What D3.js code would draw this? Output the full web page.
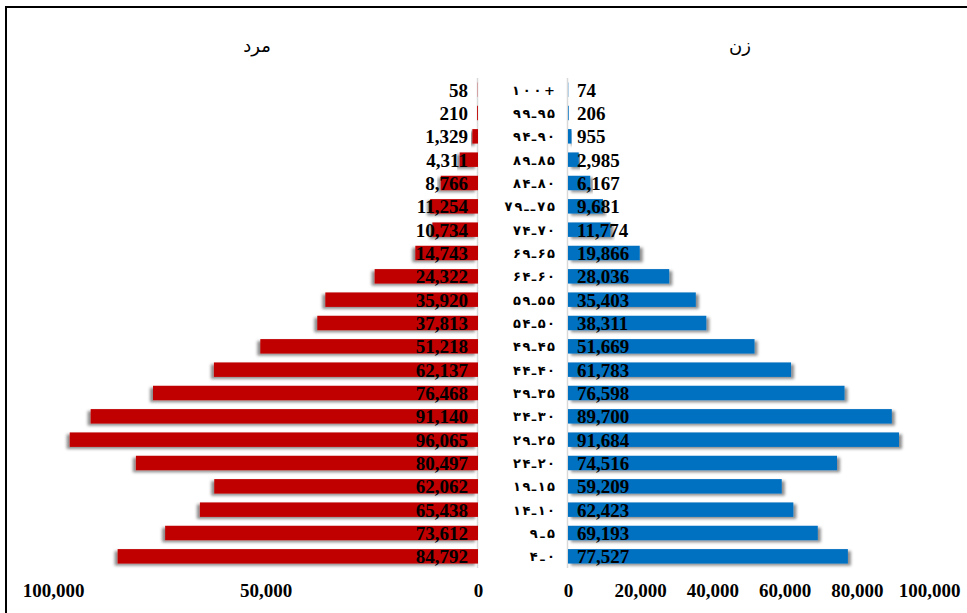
<!DOCTYPE html>
<html><head><meta charset="utf-8">
<script src="https://cdn.jsdelivr.net/npm/d3@7"></script>
<style>
html,body{margin:0;padding:0;background:#fff;}
svg{display:block;}
</style></head>
<body>
<script>
const ageGroups = ["۱۰۰+","۹۹ـ۹۵","۹۴ـ۹۰","۸۹ـ۸۵","۸۴ـ۸۰","۷۹ــ۷۵","۷۴ـ۷۰","۶۹ـ۶۵","۶۴ـ۶۰","۵۹ـ۵۵","۵۴ـ۵۰","۴۹ـ۴۵","۴۴ـ۴۰","۳۹ـ۳۵","۳۴ـ۳۰","۲۹ـ۲۵","۲۴ـ۲۰","۱۹ـ۱۵","۱۴ـ۱۰","۹ـ۵","۴ـ۰"];
const male = [58,210,1329,4311,8766,11254,10734,14743,24322,35920,37813,51218,62137,76468,91140,96065,80497,62062,65438,73612,84792];
const female = [74,206,955,2985,6167,9681,11774,19866,28036,35403,38311,51669,61783,76598,89700,91684,74516,59209,62423,69193,77527];
const maleTicks = [0,50000,100000];
const femaleTicks = [0,20000,40000,60000,80000,100000];
const titles = {male:"مرد", female:"زن"};

const W=967,H=613;
const svg=d3.select("body").append("svg").attr("width",W).attr("height",H);
const defs=svg.append("defs");
function shadow(id,dx){
  const f=defs.append("filter").attr("id",id).attr("x","-10%").attr("y","-50%").attr("width","120%").attr("height","200%");
  f.append("feDropShadow").attr("dx",dx).attr("dy",2).attr("stdDeviation",1.6).attr("flood-color","#000").attr("flood-opacity",0.45);
}
shadow("shM",-3);shadow("shF",3);

// frame
svg.append("rect").attr("x",6).attr("y",7).attr("width",1100).attr("height",1100)
  .attr("fill","none").attr("stroke","#000").attr("stroke-width",2);

const y=d3.scaleBand().domain(ageGroups).range([78,568]).paddingInner(0.38).paddingOuter(0.19);
const xM=d3.scaleLinear().domain([0,100000]).range([478,53]);
const xF=d3.scaleLinear().domain([0,100000]).range([568,929]);

// axis lines
svg.append("line").attr("x1",477.5).attr("x2",477.5).attr("y1",78).attr("y2",568).attr("stroke","#d9d9d9").attr("stroke-width",1.5);
svg.append("line").attr("x1",567.5).attr("x2",567.5).attr("y1",78).attr("y2",568).attr("stroke","#d9d9d9").attr("stroke-width",1.5);

const serif="'Liberation Serif','Times New Roman',serif";

// male bars
svg.append("g").selectAll("rect").data(male).join("rect")
  .attr("filter",d=>xM(0)-xM(d)>2?"url(#shM)":null)
  .attr("x",d=>xM(d)).attr("width",d=>xM(0)-xM(d))
  .attr("y",(d,i)=>y(ageGroups[i])).attr("height",y.bandwidth())
  .attr("fill","#C00000");
// female bars
svg.append("g").selectAll("rect").data(female).join("rect")
  .attr("filter",d=>xF(d)-xF(0)>2?"url(#shF)":null)
  .attr("x",xF(0)).attr("width",d=>xF(d)-xF(0))
  .attr("y",(d,i)=>y(ageGroups[i])).attr("height",y.bandwidth())
  .attr("fill","#0070C0");

const fmt=d3.format(",");
// value labels
svg.append("g").selectAll("text").data(male).join("text")
  .attr("x",xM(0)-10).attr("y",(d,i)=>y(ageGroups[i])+y.bandwidth()/2).attr("dy","0.36em")
  .attr("text-anchor","end").attr("font-family",serif).attr("font-weight","bold").attr("font-size",19)
  .text(d=>fmt(d));
svg.append("g").selectAll("text").data(female).join("text")
  .attr("x",xF(0)+9).attr("y",(d,i)=>y(ageGroups[i])+y.bandwidth()/2).attr("dy","0.36em")
  .attr("text-anchor","start").attr("font-family",serif).attr("font-weight","bold").attr("font-size",19)
  .text(d=>fmt(d));

// age labels
svg.append("g").selectAll("text").data(ageGroups).join("text")
  .attr("x",555).attr("y",d=>y(d)+y.bandwidth()/2).attr("dy","0.38em")
  .attr("text-anchor","end").attr("font-family","'DejaVu Sans','Noto Sans',sans-serif").attr("font-weight","bold").attr("font-size",13)
  .attr("textLength",d=>d.length===4&&d.endsWith("+")?43:d.length*8.4)
  .attr("lengthAdjust","spacing")
  .attr("direction","ltr").style("unicode-bidi","bidi-override")
  .text(d=>d);

// axes tick labels
const axM=d3.axisBottom(xM).tickValues(maleTicks).tickFormat(fmt).tickSize(0).tickPadding(0);
const axF=d3.axisBottom(xF).tickValues(femaleTicks).tickFormat(fmt).tickSize(0).tickPadding(0);
[axM,axF].forEach(ax=>{
  const g=svg.append("g").attr("transform","translate(0,583)").call(ax);
  g.select(".domain").remove();
  g.selectAll("text").attr("font-family",serif).attr("font-weight","bold").attr("font-size",19).attr("fill","#000").attr("dy","0.71em");
});

// titles
svg.append("text").attr("x",257).attr("y",52).attr("text-anchor","middle")
  .attr("font-family","'DejaVu Sans','Noto Sans',sans-serif").attr("font-size",18).text(titles.male);
svg.append("text").attr("x",740).attr("y",52).attr("text-anchor","middle")
  .attr("font-family","'DejaVu Sans','Noto Sans',sans-serif").attr("font-size",18).text(titles.female);
</script>
</body></html>
